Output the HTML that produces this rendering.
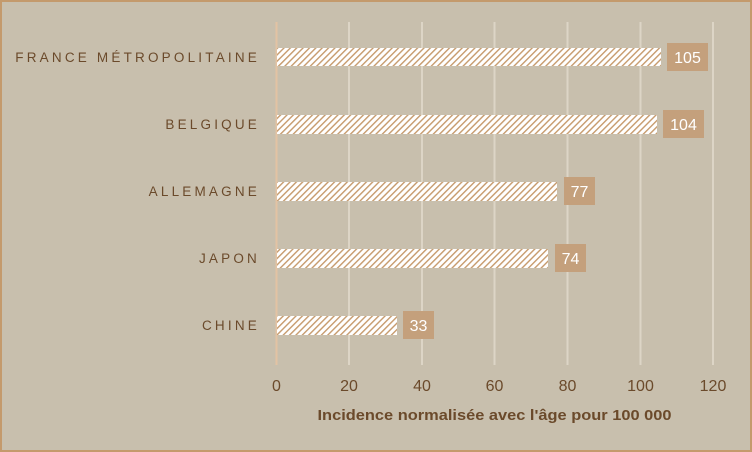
<!DOCTYPE html>
<html><head><meta charset="utf-8"><style>
html,body{margin:0;padding:0;background:#c8bfad}
svg{display:block}
</style></head><body>
<svg width="752" height="452" xmlns="http://www.w3.org/2000/svg" font-family="Liberation Sans, sans-serif">
<defs>
<pattern id="h" width="4.5" height="4.5" patternUnits="userSpaceOnUse" patternTransform="rotate(-45)">
<rect width="4.5" height="4.5" fill="#fff"/>
<rect width="4.5" height="1.4" fill="#c69a6c"/>
</pattern>
</defs>
<rect x="1" y="1" width="750" height="450" fill="#c8bfad" stroke="#c49a6c" stroke-width="2"/>
<g stroke="#ddd5c6" stroke-width="2">
<line x1="349" y1="22" x2="349" y2="365"/>
<line x1="422" y1="22" x2="422" y2="365"/>
<line x1="494.5" y1="22" x2="494.5" y2="365"/>
<line x1="567.5" y1="22" x2="567.5" y2="365"/>
<line x1="640.5" y1="22" x2="640.5" y2="365"/>
<line x1="713" y1="22" x2="713" y2="365"/>
</g>
<line x1="276.5" y1="22" x2="276.5" y2="365" stroke="#e3c3a3" stroke-width="2"/>
<g fill="url(#h)">
<rect x="277" y="48" width="384" height="18"/>
<rect x="277" y="115" width="380" height="19"/>
<rect x="277" y="182" width="280" height="19"/>
<rect x="277" y="249" width="271" height="19"/>
<rect x="277" y="316" width="120" height="19"/>
</g>
<g fill="#c4a07c">
<rect x="667" y="43" width="41" height="28"/>
<rect x="663" y="110" width="41" height="28"/>
<rect x="564" y="177" width="31" height="28"/>
<rect x="555" y="244" width="31" height="28"/>
<rect x="403" y="311" width="31" height="28"/>
</g>
<g fill="#fff" font-size="16" text-anchor="middle">
<text x="687.5" y="63">105</text>
<text x="683.5" y="130">104</text>
<text x="579.5" y="197">77</text>
<text x="570.5" y="264">74</text>
<text x="418.5" y="331">33</text>
</g>
<g fill="#6b4a2b" font-size="13.5" text-anchor="end" letter-spacing="3.2">
<text x="260" y="62">FRANCE MÉTROPOLITAINE</text>
<text x="260" y="129">BELGIQUE</text>
<text x="260" y="196">ALLEMAGNE</text>
<text x="260" y="263">JAPON</text>
<text x="260" y="330">CHINE</text>
</g>
<g fill="#6b4a2b" font-size="16" text-anchor="middle">
<text x="276.5" y="391">0</text>
<text x="349" y="391">20</text>
<text x="422" y="391">40</text>
<text x="494.5" y="391">60</text>
<text x="567.5" y="391">80</text>
<text x="640.5" y="391">100</text>
<text x="713" y="391">120</text>
</g>
<text x="494.5" y="420" fill="#6b4a2b" font-size="15" font-weight="bold" text-anchor="middle" textLength="354" lengthAdjust="spacingAndGlyphs">Incidence normalisée avec l'âge pour 100 000</text>
</svg>
</body></html>
